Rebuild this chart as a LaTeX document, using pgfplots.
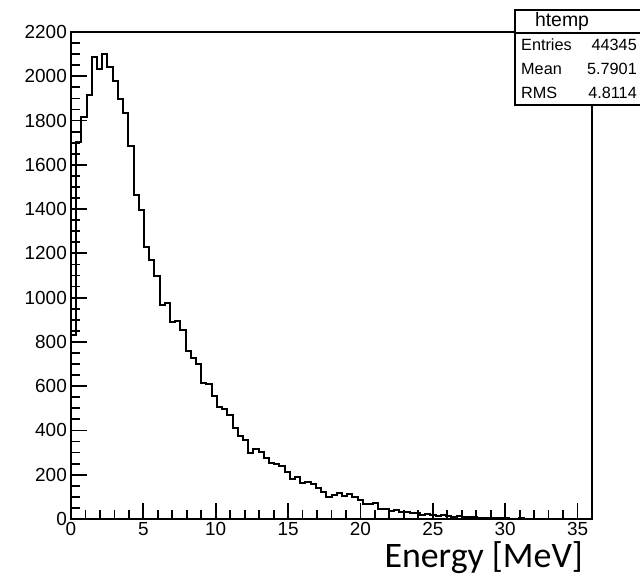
\documentclass[border=0pt]{standalone}
\usepackage{pgfplots}
\pgfplotsset{compat=1.18}
\usepackage{fontspec}
\setmainfont{Liberation Sans}
\newfontfamily\calibri{Carlito}
\begin{document}
\begin{tikzpicture}
\path[use as bounding box] (0,0) rectangle (640bp,588bp);
\begin{axis}[
  at={(71bp,69bp)}, anchor=south west,
  scale only axis, width=521bp, height=487bp,
  xmin=0, xmax=36, ymin=0, ymax=2200,
  xtick={0,5,...,35}, ytick={0,200,...,2200},
  minor x tick num=4, minor y tick num=3,
  tick align=inside, xtick pos=bottom, ytick pos=left,
  major tick length=15.5bp, minor tick length=8.5bp,
  axis line style={line width=2bp},
  tick style={black, line width=1.8bp},
  tick label style={font=\fontsize{19}{19}\selectfont},
  /pgf/number format/assume math mode=true,
  yticklabel style={inner sep=0pt, anchor=east, xshift=-4bp},
  xticklabel style={inner sep=0pt, anchor=north, yshift=-3bp},
  scaled y ticks=false,
  y tick label style={/pgf/number format/1000 sep={}},
]
\addplot[const plot mark left, black, line width=2bp] table {
x y
0 830
0.36 1704
0.72 1814
1.08 1915
1.44 2085
1.80 2035
2.16 2100
2.52 2040
2.88 1980
3.24 1897
3.60 1832
3.96 1685
4.32 1465
4.68 1396
5.04 1227
5.40 1170
5.76 1099
6.12 968
6.48 975
6.84 891
7.20 896
7.56 854
7.92 759
8.28 726
8.64 699
9.00 616
9.36 610
9.72 555
10.08 504
10.44 497
10.80 471
11.16 410
11.52 375
11.88 357
12.24 297
12.60 316
12.96 304
13.32 274
13.68 252
14.04 250
14.40 239
14.76 214
15.12 179
15.48 190
15.84 164
16.20 168
16.56 157
16.92 139
17.28 123
17.64 101
18.00 108
18.36 116
18.72 105
19.08 113
19.44 98
19.80 84
20.16 66
20.52 66
20.88 74
21.24 46
21.60 44
21.96 36
22.32 41
22.68 33
23.04 32
23.40 28
23.76 25
24.12 20
24.48 22
24.84 18
25.20 15
25.56 16
25.92 13
26.28 11
26.64 12
27.00 9
27.36 8
27.72 8
28.08 6
28.44 6
28.80 5
29.16 4
29.52 3
29.88 4
30.24 2
30.60 2
30.96 3
31.32 1
31.68 1
32.04 1
32.40 2
32.76 1
33.12 0
33.48 1
33.84 0
34.20 1
34.56 0
34.92 0
35.28 0
35.64 0
36.00 0
};
\end{axis}
% stats box
\draw[line width=1.8bp, fill=white] (515bp,578bp) rectangle (668bp,483bp);
\draw[line width=1.8bp] (515bp,555bp) -- (668bp,555bp);
\node[font=\fontsize{19.5}{19.5}\selectfont] at (562bp,566.5bp) {htemp};
\begin{scope}[every node/.style={inner sep=0pt, font=\fontsize{16.3}{16.3}\selectfont}]
\node[anchor=west] at (521bp,543bp) {Entries};
\node[anchor=east] at (637bp,543bp) {44345};
\node[anchor=west] at (521bp,519bp) {Mean};
\node[anchor=east] at (637bp,519bp) {5.7901};
\node[anchor=west] at (521bp,495bp) {RMS};
\node[anchor=east] at (637bp,495bp) {4.8114};
\end{scope}
\node[anchor=base east, inner sep=0pt, font=\calibri\fontsize{36}{36}\selectfont] at (583bp,21bp) {Energy [MeV]};
\end{tikzpicture}
\end{document}
